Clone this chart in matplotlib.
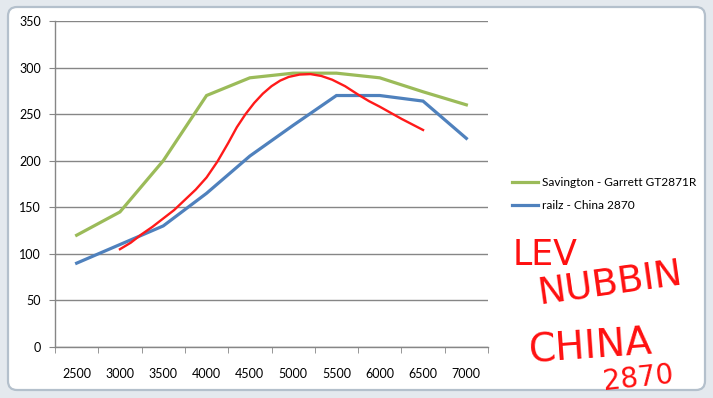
import matplotlib
matplotlib.use("Agg")
import matplotlib.pyplot as plt
from matplotlib.patches import FancyBboxPatch

# data
rpm_labels = ["2500", "3000", "3500", "4000", "4500", "5000", "5500", "6000", "6500", "7000"]
savington = [120, 145, 200, 270, 289, 294, 294, 289, 274, 260]
railz = [90, 110, 130, 165, 205, 238, 270, 270, 264, 224]

# the red hand-drawn curve, sampled by eye
red_rpm = [3000, 3125, 3250, 3375, 3500, 3625, 3750, 3875, 4000, 4125, 4250, 4350,
           4450, 4550, 4650, 4750, 4850, 4950, 5075, 5200, 5325, 5450, 5600, 5750,
           5875, 6000, 6250, 6500]
red_val = [105, 112, 121, 129, 138, 147, 158, 169, 182, 199, 219, 236,
           250, 262, 272, 280, 286, 290, 292.5, 293, 291, 287, 280, 271,
           264, 258, 245, 233]

y_ticks = [0, 50, 100, 150, 200, 250, 300, 350]

GREEN = "#9bbb59"
BLUE = "#4f81bd"
GRID = "#868686"

plt.rcParams["font.family"] = ["Lato", "DejaVu Sans"]

fig = plt.figure(figsize=(7.13, 3.98), dpi=100)

# background: spreadsheet margin + rounded chart area
bg = fig.add_axes([0, 0, 1, 1], zorder=-1)
bg.set_xlim(0, 713)
bg.set_ylim(398, 0)
bg.set_facecolor("#e4e9ee")
bg.set_xticks([])
bg.set_yticks([])
for s in bg.spines.values():
    s.set_visible(False)
bg.add_patch(FancyBboxPatch((8, 7), 697, 383, boxstyle="round,pad=0,rounding_size=9",
                            facecolor="white", edgecolor="#b4c0cc", linewidth=1.6))

ax = fig.add_axes([55 / 713, 1 - 347 / 398, 433 / 713, 326 / 398])
ax.set_facecolor("none")

x = list(range(len(rpm_labels)))
ax.plot(x, savington, color=GREEN, lw=2.3, solid_joinstyle="miter", zorder=3,
        label="Savington - Garrett GT2871R")
ax.plot(x, railz, color=BLUE, lw=2.3, solid_joinstyle="miter", zorder=3,
        label="railz - China 2870")
red_x = [(r - 2500) / 500 for r in red_rpm]
ax.plot(red_x, red_val, color="#ff1a1a", lw=1.7, zorder=4)

ax.set_xlim(-0.5, len(rpm_labels) - 0.5)
ax.set_ylim(0, 350)
ax.set_yticks(y_ticks)
ax.set_xticks(x)
ax.set_xticklabels(rpm_labels)
ax.set_xticks([i - 0.5 for i in range(len(rpm_labels) + 1)], minor=True)
ax.tick_params(axis="x", which="major", length=0, pad=15, labelsize=9)
ax.tick_params(axis="x", which="minor", length=4, color=GRID, direction="out")
ax.tick_params(axis="y", length=4, color=GRID, pad=6, labelsize=9)

ax.grid(axis="y", color=GRID, lw=1)
ax.set_axisbelow(True)
for s in ["top", "right"]:
    ax.spines[s].set_visible(False)
for s in ["left", "bottom"]:
    ax.spines[s].set_color(GRID)
    ax.spines[s].set_linewidth(1)

leg = ax.legend(loc="center left", bbox_to_anchor=(1.03, 0.47), frameon=False,
                fontsize=8.6, handlelength=2.2, handletextpad=0.3, labelspacing=1.0)

# handwritten scribbles
hand = dict(color="#ff1010", family=["Liberation Sans Narrow", "DejaVu Sans"],
            transform=fig.transFigure)
fig.text(513 / 713, 1 - 265 / 398, "LEV", fontsize=25, **hand)
fig.text(535 / 713, 1 - 303 / 398, "NUBBIN", fontsize=27, rotation=8, **hand)
fig.text(528 / 713, 1 - 362 / 398, "CHINA", fontsize=28, rotation=4, **hand)
fig.text(602 / 713, 1 - 390 / 398, "2870", fontsize=20, rotation=6, **hand)

fig.savefig("out.png", dpi=100)
